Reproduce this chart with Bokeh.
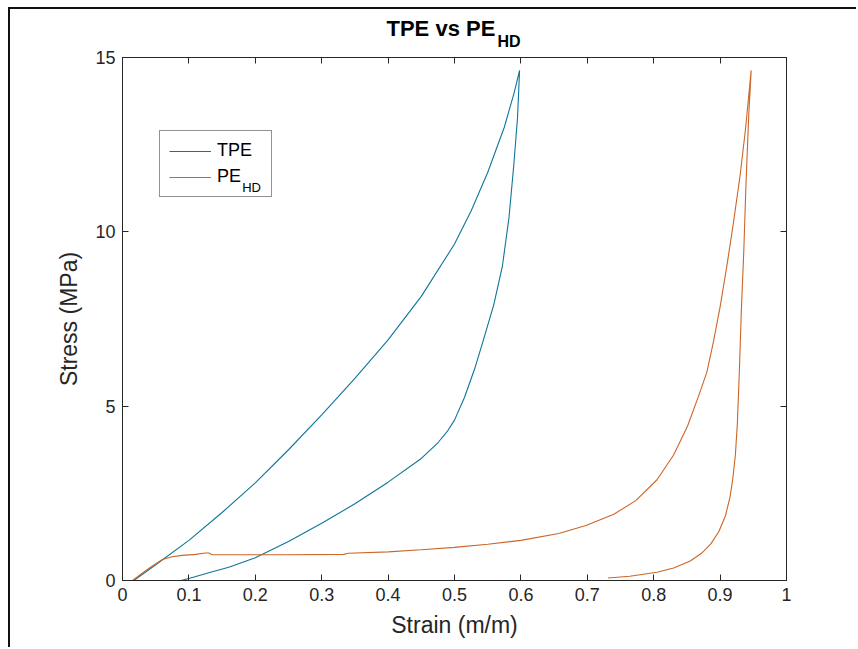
from bokeh.plotting import figure
from bokeh.models import Range1d, FixedTicker, LinearAxis, Legend, LegendItem, Label, Title
from bokeh.embed import file_html
from bokeh.resources import INLINE

# ---------------- data ----------------
x_ticks = [0, 0.1, 0.2, 0.3, 0.4, 0.5, 0.6, 0.7, 0.8, 0.9, 1.0]
x_tick_labels = ["0", "0.1", "0.2", "0.3", "0.4", "0.5", "0.6", "0.7", "0.8", "0.9", "1"]
y_ticks = [0, 5, 10, 15]
y_tick_labels = ["0", "5", "10", "15"]

tpe_strain = [0.017, 0.05, 0.10, 0.15, 0.20, 0.25, 0.30, 0.35, 0.40, 0.45,
              0.50, 0.525, 0.55, 0.575, 0.59, 0.598,
              0.595, 0.589, 0.582, 0.572, 0.559, 0.542, 0.53, 0.515, 0.50, 0.49,
              0.475, 0.45, 0.40, 0.35, 0.30, 0.25, 0.20, 0.16, 0.13, 0.10, 0.088]
tpe_stress = [0.0, 0.45, 1.15, 1.95, 2.80, 3.75, 4.75, 5.80, 6.90, 8.15,
              9.65, 10.60, 11.70, 13.00, 14.00, 14.63,
              13.30, 11.85, 10.40, 9.00, 7.90, 6.80, 6.05, 5.25, 4.60, 4.30,
              3.95, 3.50, 2.82, 2.20, 1.64, 1.12, 0.65, 0.38, 0.22, 0.06, 0.0]

pe_strain = [0.0, 0.015, 0.04, 0.06, 0.075, 0.09, 0.11, 0.125, 0.13, 0.135,
             0.20, 0.25, 0.333, 0.34, 0.40, 0.45, 0.50, 0.55, 0.60, 0.657,
             0.698, 0.74, 0.773, 0.805, 0.83, 0.851, 0.867, 0.88, 0.89, 0.90,
             0.91, 0.92, 0.93, 0.938, 0.9468,
             0.943, 0.939, 0.9357, 0.932, 0.929, 0.926, 0.923, 0.919, 0.915,
             0.908, 0.898, 0.886, 0.872, 0.855, 0.83, 0.805, 0.764, 0.731]
pe_stress = [0.0, 0.0, 0.35, 0.60, 0.68, 0.72, 0.75, 0.79, 0.79, 0.74,
             0.74, 0.74, 0.75, 0.78, 0.82, 0.88, 0.95, 1.04, 1.15, 1.35,
             1.58, 1.90, 2.29, 2.89, 3.60, 4.43, 5.26, 5.97, 6.85, 7.85,
             9.00, 10.25, 11.60, 12.90, 14.63,
             13.29, 11.38, 9.46, 7.74, 6.00, 4.50, 3.60, 2.90, 2.40,
             1.85, 1.40, 1.05, 0.78, 0.56, 0.36, 0.235, 0.12, 0.07]

series_names = ["TPE", "PE"]
series_subscripts = ["", "HD"]
series_colors = ["#0F759A", "#CC6626"]
title_main = "TPE vs PE"
title_sub = "HD"

FONT = "Liberation Sans"
AX = "#262626"

p = figure(width=848, height=640, output_backend="svg", toolbar_location=None,
           x_range=Range1d(0, 1), y_range=Range1d(0, 15),
           min_border_left=112, min_border_right=72, min_border_top=48, min_border_bottom=69,
           background_fill_color="white", border_fill_color="white")
p.styles = {"margin-left": "8px", "margin-top": "7px",
            "border-left": "2px solid #111", "border-top": "2px solid #111"}
p.xgrid.visible = False
p.ygrid.visible = False
p.outline_line_color = AX
p.outline_line_width = 1
p.outline_line_alpha = 1

r1 = p.line(tpe_strain, tpe_stress, line_color=series_colors[0], line_width=1.1)
r2 = p.line(pe_strain, pe_stress, line_color=series_colors[1], line_width=1.1)


def style_axis(ax, ticks, labels=None, show_labels=True):
    ax.ticker = FixedTicker(ticks=ticks)
    ax.major_tick_in = 6
    ax.major_tick_out = 0
    ax.minor_tick_line_color = None
    ax.axis_line_color = AX
    ax.major_tick_line_color = AX
    ax.major_label_text_font = FONT
    ax.major_label_text_color = AX
    if show_labels:
        ax.major_label_text_font_size = "18px"
        ax.major_label_overrides = {t: l for t, l in zip(ticks, labels)}
    else:
        ax.major_label_overrides = {t: "" for t in ticks}
        ax.major_label_text_font_size = "1px"
        ax.major_label_standoff = 0
    ax.axis_label_text_font = FONT
    ax.axis_label_text_font_size = "23px"
    ax.axis_label_text_font_style = "normal"
    ax.axis_label_text_color = AX


style_axis(p.xaxis[0], x_ticks, x_tick_labels)
style_axis(p.yaxis[0], y_ticks, y_tick_labels)
p.xaxis[0].axis_label = "Strain (m/m)"
p.yaxis[0].axis_label = "Stress (MPa)"
p.xaxis[0].major_label_standoff = 7
p.xaxis[0].axis_label_standoff = 8
p.yaxis[0].major_label_standoff = 7
p.yaxis[0].axis_label_standoff = 10

top_ax = LinearAxis()
style_axis(top_ax, x_ticks, show_labels=False)
p.add_layout(top_ax, "above")
right_ax = LinearAxis()
style_axis(right_ax, y_ticks, show_labels=False)
p.add_layout(right_ax, "right")

# title: subscript panel (nearer the frame) and main text
sub_title = Title(text=title_sub, align="left", offset=375, standoff=16,
                  text_font=FONT, text_font_size="16px", text_font_style="bold", text_color="#000")
p.add_layout(sub_title, "above")
p.title.text = title_main
p.title.align = "left"
p.title.offset = 264
p.title.standoff = -36
p.title.text_font = FONT
p.title.text_font_size = "22px"
p.title.text_font_style = "bold"
p.title.text_color = "#000"

legend = Legend(items=[LegendItem(label=series_names[0], renderers=[r1]),
                       LegendItem(label=series_names[1], renderers=[r2])],
                location=(37, 383), margin=0, padding=9, spacing=5,
                glyph_width=42, glyph_height=20, label_height=20, label_width=45,
                label_standoff=6, border_line_color=AX, border_line_width=1,
                background_fill_alpha=0,
                label_text_font=FONT, label_text_font_size="18px", label_text_color="#000")
p.add_layout(legend)

# subscript of the legend entry
p.add_layout(Label(x=0.1803, y=11.056, text=series_subscripts[1], text_align="left",
                   text_baseline="bottom", text_font=FONT, text_font_size="13px", text_color="#000"))

open("out.html", "w").write(file_html(p, INLINE))
